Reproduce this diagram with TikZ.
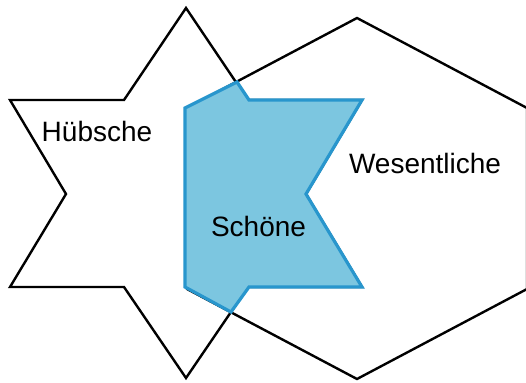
\documentclass[tikz,border=0pt]{standalone}
\usepackage{fontspec}
\setmainfont{Liberation Sans}
\definecolor{bluefill}{RGB}{124,198,224}
\definecolor{blueline}{RGB}{40,150,205}
\tikzset{
  outline/.style={draw=black, line width=2.4pt, line join=miter},
  inter/.style={fill=bluefill, draw=blueline, line width=3.2pt, line join=miter},
  lbl/.style={font=\fontsize{28}{32}\selectfont, anchor=base, inner sep=0pt, text=black}
}
\begin{document}
\begin{tikzpicture}[x=1pt,y=-1pt]
\useasboundingbox[fill=white] (0,0) rectangle (526,382);
% star
\draw[outline] (186,8) -- (248,100) -- (362,100) -- (306,194) -- (362,287) -- (248,287)
  -- (186,378) -- (124,287) -- (10,287) -- (66,194) -- (10,100) -- (124,100) -- cycle;
% hexagon
\draw[outline] (357,18) -- (527,108) -- (527,289) -- (357,379) -- (187,289) -- (187,108) -- cycle;
% intersection
\draw[inter] (185,108) -- (237,82) -- (249,100) -- (362,100) -- (306,194) -- (362,287)
  -- (249,287) -- (231,312) -- (185,287) -- cycle;
\node[lbl] (h) at (97,141) {Hübsche};
\node[lbl] (w) at (425,173) {Wesentliche};
\node[lbl] (s) at (258.5,236) {Schöne};
\end{tikzpicture}
\end{document}
